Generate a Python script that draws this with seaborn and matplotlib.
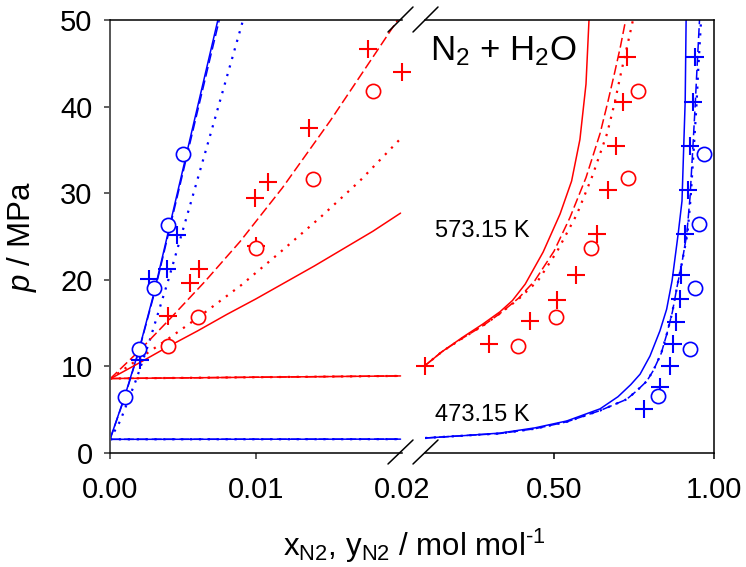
import numpy as np
import pandas as pd
import matplotlib
matplotlib.use("Agg")
import matplotlib.pyplot as plt
from matplotlib.lines import Line2D
import seaborn as sns

# ---------------- data ----------------
# liquid side (x_N2), left panel, 473.15 K (blue)
bL_solid_x = [0, 0.001, 0.002, 0.003, 0.004, 0.005, 0.006, 0.007, 0.0075]
bL_solid_p = [1.58, 6.5, 12.0, 18.4, 25.6, 32.8, 40.0, 47.2, 50.8]
bL_dash_x = [0, 0.001, 0.002, 0.003, 0.004, 0.005, 0.006, 0.007, 0.0076]
bL_dash_p = [1.58, 6.4, 11.9, 18.2, 25.3, 32.4, 39.5, 46.6, 50.8]
bL_dot_x = [0, 0.0007, 0.0018, 0.0027, 0.004, 0.0055, 0.007, 0.0092]
bL_dot_p = [1.58, 3.7, 8.5, 12.9, 20.0, 28.7, 37.5, 50.5]
bL_flat_x = [0, 0.0199]
bL_flat_p = [1.58, 1.60]

# liquid side, left panel, 573.15 K (red)
rL_solid_x = [0, 0.002, 0.004, 0.006, 0.008, 0.010, 0.012, 0.014, 0.016, 0.018, 0.0199]
rL_solid_p = [8.55, 10.4, 12.3, 14.1, 16.0, 17.8, 19.7, 21.6, 23.6, 25.6, 27.7]
rL_dash_x = [0, 0.002, 0.004, 0.0065, 0.0089, 0.0118, 0.0151, 0.018, 0.0199]
rL_dash_p = [8.55, 11.8, 15.3, 19.8, 24.4, 30.6, 38.4, 45.7, 50.5]
rL_dot_x = [0, 0.002, 0.004, 0.006, 0.009, 0.0116, 0.0144, 0.0171, 0.0199]
rL_dot_p = [8.55, 10.9, 13.2, 15.6, 19.4, 23.1, 27.2, 31.4, 36.3]
rL_flat_x = [0, 0.0199]
rL_flat_p = [8.6, 8.9]

# experimental points, left panel
bL_circ_x = [0.001, 0.002, 0.003, 0.004, 0.005]
bL_circ_p = [6.5, 12.0, 19.0, 26.3, 34.5]
bL_cross_x = [0.00205, 0.0027, 0.0039, 0.0046]
bL_cross_p = [10.7, 20.1, 21.3, 25.2]
rL_circ_x = [0.0040, 0.0060, 0.0100, 0.0139, 0.0180]
rL_circ_p = [12.3, 15.7, 23.7, 31.6, 41.8]
rL_cross_x = [0.0040, 0.0055, 0.0061, 0.0099, 0.0100, 0.0108, 0.0136, 0.0177, 0.0200]
rL_cross_p = [15.8, 19.6, 21.3, 29.4, 23.9, 31.3, 37.5, 46.6, 44.0]

# vapour side (y_N2), right panel, 573.15 K (red)
rR_solid_x = [0.097, 0.15, 0.216, 0.278, 0.331, 0.37, 0.41, 0.466, 0.519, 0.555, 0.581, 0.600, 0.610]
rR_solid_p = [10.1, 11.7, 13.4, 14.9, 16.3, 17.6, 19.5, 23.2, 27.6, 31.4, 36.2, 42.6, 50.5]
rR_dash_x = [0.097, 0.15, 0.216, 0.278, 0.331, 0.39, 0.44, 0.50, 0.55, 0.60, 0.644, 0.668, 0.69, 0.708, 0.725]
rR_dash_p = [10.1, 11.7, 13.3, 14.7, 16.1, 17.9, 19.9, 23.3, 27.2, 31.8, 36.9, 40.5, 44.0, 47.0, 50.2]
rR_dot_x = [0.097, 0.15, 0.216, 0.278, 0.331, 0.39, 0.45, 0.51, 0.572, 0.62, 0.666, 0.69, 0.71, 0.73, 0.748]
rR_dot_p = [10.1, 11.7, 13.3, 14.7, 16.1, 17.8, 19.9, 23.3, 27.6, 32.0, 36.9, 40.5, 44.0, 47.2, 50.2]

# vapour side, right panel, 473.15 K (blue)
bR_solid_x = [0.097, 0.216, 0.331, 0.44, 0.54, 0.644, 0.70, 0.74, 0.769, 0.80, 0.831, 0.852, 0.869,
              0.888, 0.90, 0.906, 0.91, 0.913]
bR_solid_p = [1.73, 2.0, 2.3, 2.9, 3.7, 5.1, 6.5, 7.9, 9.1, 11.2, 14.1, 16.6, 19.9,
              25.3, 29.1, 36.1, 40.7, 50.5]
bR_dash_x = [0.097, 0.216, 0.331, 0.44, 0.54, 0.644, 0.727, 0.759, 0.79, 0.81, 0.835, 0.853, 0.87,
             0.884, 0.90, 0.915, 0.925, 0.934, 0.941, 0.947, 0.955]
bR_dash_p = [1.73, 2.0, 2.25, 2.8, 3.6, 4.9, 6.2, 7.2, 8.3, 9.5, 11.5, 13.8, 16.3,
             19.1, 22.0, 25.3, 29.5, 35.3, 40.0, 44.5, 50.2]
bR_dot_x = [0.097, 0.216, 0.331, 0.44, 0.54, 0.644, 0.727, 0.759, 0.79, 0.81, 0.835, 0.853, 0.87,
            0.884, 0.90, 0.917, 0.927, 0.937, 0.945, 0.951, 0.96]
bR_dot_p = [1.73, 2.0, 2.25, 2.8, 3.6, 4.9, 6.2, 7.2, 8.3, 9.5, 11.5, 13.8, 16.3,
            19.1, 22.0, 25.3, 29.5, 35.3, 40.0, 44.5, 50.2]

# experimental points, right panel
rR_cross_x = [0.097, 0.297, 0.425, 0.509, 0.569, 0.634, 0.669, 0.694, 0.715, 0.728]
rR_cross_p = [10.1, 12.6, 15.3, 17.7, 20.5, 25.3, 30.4, 35.5, 40.5, 45.7]
rR_circ_x = [0.387, 0.506, 0.615, 0.73, 0.763]
rR_circ_p = [12.3, 15.7, 23.7, 31.7, 41.8]
bR_cross_x = [0.781, 0.831, 0.863, 0.872, 0.881, 0.894, 0.898, 0.909, 0.920, 0.925, 0.933, 0.941]
bR_cross_p = [5.1, 7.6, 10.1, 12.6, 15.1, 17.8, 20.5, 25.3, 30.4, 35.5, 40.5, 45.7]
bR_circ_x = [0.825, 0.925, 0.941, 0.953, 0.969]
bR_circ_p = [6.6, 12.0, 19.1, 26.4, 34.5]

yticks = [0, 10, 20, 30, 40, 50]
left_ticks = [0.0, 0.01]
left_ticklabels = ["0.00", "0.01"]
break_label = "0.02"
right_ticks = [0.5, 1.0]
right_ticklabels = ["0.50", "1.00"]

# ---------------- style ----------------
sns.set_theme(style="white")
plt.rcParams["font.family"] = ["Liberation Sans", "DejaVu Sans"]
plt.rcParams["mathtext.fontset"] = "custom"
plt.rcParams["mathtext.rm"] = "Liberation Sans"
plt.rcParams["mathtext.it"] = "Liberation Sans:italic"
plt.rcParams["mathtext.default"] = "regular"
for k in ["text.color", "axes.labelcolor", "xtick.color", "ytick.color"]:
    plt.rcParams[k] = "black"

RED = "#FF0000"
BLUE = "#0000FF"
DASH = (0, (6.5, 2.6))
DOT = (0, (1.0, 3.0))

W, H = 746, 567
fig = plt.figure(figsize=(W / 100, H / 100), dpi=100)
ax1 = fig.add_axes([110 / W, 1 - 453 / H, 292 / W, 433 / H])
ax2 = fig.add_axes([425 / W, 1 - 453 / H, 289 / W, 433 / H])


def line(ax, x, y, color, style):
    lw = 1.1 if style != DOT else 1.6
    sns.lineplot(x=x, y=y, ax=ax, color=color, linestyle=style, lw=lw,
                 sort=False, estimator=None, zorder=2)


def crosses(ax, x, y, color):
    sns.scatterplot(x=x, y=y, ax=ax, marker="+", s=170, color=color,
                    linewidth=1.5, clip_on=False, zorder=4)


def circles(ax, x, y, color):
    sns.scatterplot(x=x, y=y, ax=ax, marker="o", s=105, color="white",
                    edgecolor=color, linewidth=1.2, clip_on=False, zorder=5)


# left panel
for st in ["-", DASH, DOT]:
    line(ax1, bL_flat_x, bL_flat_p, BLUE, st)
    line(ax1, rL_flat_x, rL_flat_p, RED, st)
line(ax1, bL_solid_x, bL_solid_p, BLUE, "-")
line(ax1, bL_dash_x, bL_dash_p, BLUE, DASH)
line(ax1, bL_dot_x, bL_dot_p, BLUE, DOT)
line(ax1, rL_solid_x, rL_solid_p, RED, "-")
line(ax1, rL_dash_x, rL_dash_p, RED, DASH)
line(ax1, rL_dot_x, rL_dot_p, RED, DOT)
crosses(ax1, rL_cross_x, rL_cross_p, RED)
crosses(ax1, bL_cross_x, bL_cross_p, BLUE)
circles(ax1, rL_circ_x, rL_circ_p, RED)
circles(ax1, bL_circ_x, bL_circ_p, BLUE)

# right panel
line(ax2, bR_solid_x, bR_solid_p, BLUE, "-")
line(ax2, bR_dash_x, bR_dash_p, BLUE, DASH)
line(ax2, bR_dot_x, bR_dot_p, BLUE, DOT)
line(ax2, rR_solid_x, rR_solid_p, RED, "-")
line(ax2, rR_dash_x, rR_dash_p, RED, DASH)
line(ax2, rR_dot_x, rR_dot_p, RED, DOT)
crosses(ax2, rR_cross_x, rR_cross_p, RED)
crosses(ax2, bR_cross_x, bR_cross_p, BLUE)
circles(ax2, rR_circ_x, rR_circ_p, RED)
circles(ax2, bR_circ_x, bR_circ_p, BLUE)

# ---------------- axes ----------------
FS = 21
for ax in (ax1, ax2):
    ax.set_ylim(0, 50)
    ax.set_xlabel("")
    ax.set_ylabel("")
    for s in ax.spines.values():
        s.set_color("black")
        s.set_linewidth(1.1)

ax1.set_xlim(0, 0.02)
ax2.set_xlim(0.0969, 1.0)

ax1.spines["right"].set_visible(False)
ax1.spines["left"].set_color("#555555")
ax1.spines["left"].set_linewidth(1.4)
ax2.spines["left"].set_visible(False)

ax1.set_yticks(yticks)
ax1.set_yticklabels([str(v) for v in yticks])
ax1.set_xticks(left_ticks)
ax1.set_xticklabels(left_ticklabels)
ax1.set_xticks([0.02], labels=[break_label], minor=True)
ax1.tick_params(axis="both", which="major", direction="out", length=4.5, width=1.1,
                labelsize=FS, color="#333333", bottom=True, left=True)
ax1.tick_params(axis="y", pad=8)
ax1.tick_params(axis="x", pad=12)
ax1.tick_params(axis="x", which="minor", length=0, pad=16.5, labelsize=FS, bottom=True)

ax2.set_yticks([])
ax2.set_xticks(right_ticks)
ax2.set_xticklabels(right_ticklabels)
ax2.tick_params(axis="x", which="major", direction="out", length=4.5, width=1.1,
                labelsize=FS, pad=12, bottom=True)

ax1.set_ylabel(r"$\it{p}$ / MPa", fontsize=22.5, labelpad=15)

fig.text(414 / W, 1 - 565 / H, "x$_{N2}$, y$_{N2}$ / mol mol$^{\u2010 1}$",
         ha="center", va="bottom", fontsize=22.5)

# annotations
fig.text(430 / W, 1 - 60 / H, r"N$_2$ + H$_2$O", ha="left", va="baseline", fontsize=25)
fig.text(435 / W, 1 - 237 / H, "573.15 K", ha="left", va="baseline", fontsize=17)
fig.text(435 / W, 1 - 421 / H, "473.15 K", ha="left", va="baseline", fontsize=17)

# axis-break marks
for (x0, y0, x1, y1) in [(388, 32, 413, 7), (413, 32, 438, 7),
                         (388, 464, 413, 440), (413, 464, 438, 440)]:
    fig.add_artist(Line2D([x0 / W, x1 / W], [1 - y0 / H, 1 - y1 / H],
                          transform=fig.transFigure, color="black", lw=1.1))

fig.savefig("out.png", dpi=100)
